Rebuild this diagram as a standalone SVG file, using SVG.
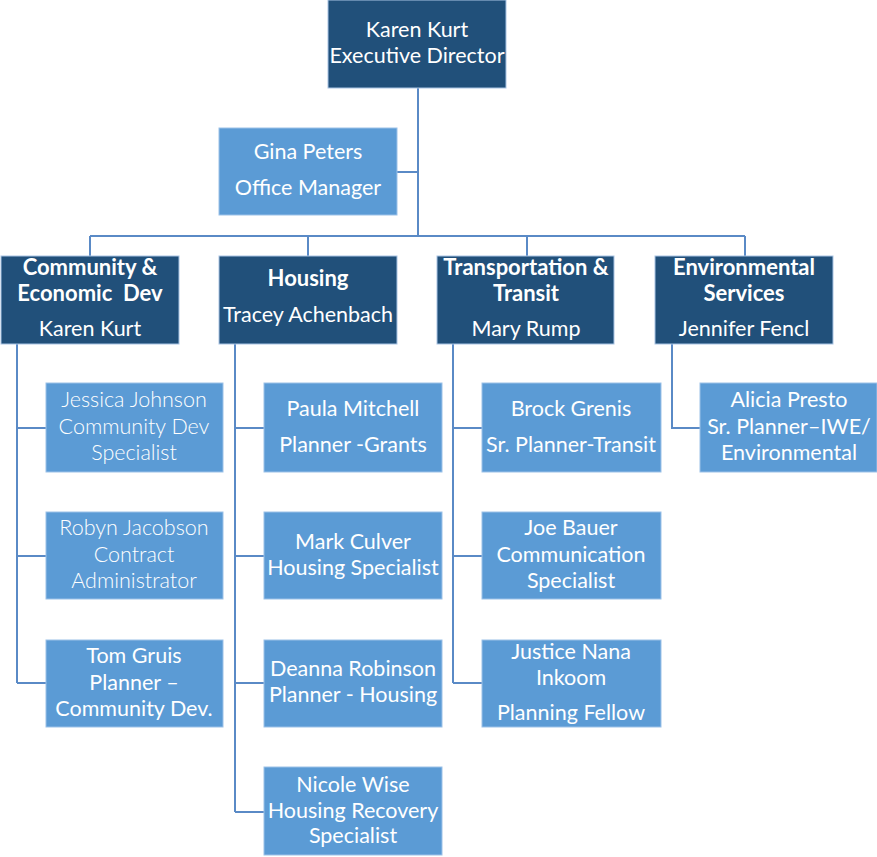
<svg xmlns="http://www.w3.org/2000/svg" width="877" height="857" viewBox="0 0 877 857">
<style>
.dk{fill:#21507A;stroke:#A9C4E4;stroke-width:1}
.lt{fill:#5B9BD5;stroke:#9CC1E8;stroke-width:1}
text{font-family:Lato,"Liberation Sans",sans-serif;font-size:21.5px;fill:#fff;text-anchor:middle}
.b{font-weight:bold;font-size:22px}
.l{font-weight:300}
.c{fill:none;stroke:#5A8AC6;stroke-width:2}
</style>
<rect width="877" height="857" fill="#fff"/>
<g id="connectors">
<path class="c" d="M418 88V236M397 172H418M90 236H745M90 236V256M308 236V256M527 236V256M745 236V256"/>
<path class="c" d="M17 344V683M17 428H46M17 556H46M17 683H46"/>
<path class="c" d="M235 344V812M235 428H264M235 556H264M235 683H264M235 812H264"/>
<path class="c" d="M453 344V683M453 428H482M453 556H482M453 683H482"/>
<path class="c" d="M672 344V428H700"/>
</g>
<g id="exec"><rect class="dk" x="328" y="0" width="178" height="88"/><text x="417" y="37">Karen Kurt</text><text x="417" y="63">Executive Director</text></g>
<g id="gina"><rect class="lt" x="219" y="128" width="178" height="87"/><text x="308" y="159">Gina Peters</text><text x="308" y="195">Office Manager</text></g>
<g id="ced"><rect class="dk" x="1" y="256" width="178" height="88"/><text class="b" x="90" y="275">Community &amp;</text><text class="b" x="90" y="301" xml:space="preserve">Economic  Dev</text><text x="90" y="336">Karen Kurt</text></g>
<g id="housing"><rect class="dk" x="219" y="256" width="178" height="88"/><text class="b" x="308" y="286">Housing</text><text x="308" y="322">Tracey Achenbach</text></g>
<g id="transport"><rect class="dk" x="437" y="256" width="177" height="88"/><text class="b" x="526" y="275">Transportation &amp;</text><text class="b" x="526" y="301">Transit</text><text x="526" y="336">Mary Rump</text></g>
<g id="env"><rect class="dk" x="655" y="256" width="178" height="88"/><text class="b" x="744" y="275">Environmental</text><text class="b" x="744" y="301">Services</text><text x="744" y="336">Jennifer Fencl</text></g>
<g id="jessica"><rect class="lt" x="46" y="383" width="177" height="89"/><text class="l" x="134" y="407">Jessica Johnson</text><text class="l" x="134" y="434">Community Dev</text><text class="l" x="134" y="460">Specialist</text></g>
<g id="robyn"><rect class="lt" x="46" y="512" width="177" height="87"/><text class="l" x="134" y="535">Robyn Jacobson</text><text class="l" x="134" y="562">Contract</text><text class="l" x="134" y="588">Administrator</text></g>
<g id="tom"><rect class="lt" x="46" y="640" width="177" height="87"/><text x="134" y="663">Tom Gruis</text><text x="134" y="690">Planner –</text><text x="134" y="716">Community Dev.</text></g>
<g id="paula"><rect class="lt" x="264" y="383" width="178" height="89"/><text x="353" y="416">Paula Mitchell</text><text x="353" y="452">Planner -Grants</text></g>
<g id="mark"><rect class="lt" x="264" y="512" width="178" height="87"/><text x="353" y="549">Mark Culver</text><text x="353" y="575">Housing Specialist</text></g>
<g id="deanna"><rect class="lt" x="264" y="640" width="178" height="87"/><text x="353" y="676">Deanna Robinson</text><text x="353" y="702">Planner - Housing</text></g>
<g id="nicole"><rect class="lt" x="264" y="767" width="178" height="88"/><text x="353" y="792">Nicole Wise</text><text x="353" y="818">Housing Recovery</text><text x="353" y="843">Specialist</text></g>
<g id="brock"><rect class="lt" x="482" y="383" width="179" height="89"/><text x="571" y="416">Brock Grenis</text><text x="571" y="452">Sr. Planner-Transit</text></g>
<g id="joe"><rect class="lt" x="482" y="512" width="179" height="87"/><text x="571" y="535">Joe Bauer</text><text x="571" y="562">Communication</text><text x="571" y="588">Specialist</text></g>
<g id="justice"><rect class="lt" x="482" y="640" width="179" height="87"/><text x="571" y="659">Justice Nana</text><text x="571" y="685">Inkoom</text><text x="571" y="720">Planning Fellow</text></g>
<g id="alicia"><rect class="lt" x="700" y="383" width="177" height="89"/><text x="789" y="407">Alicia Presto</text><text x="789" y="434">Sr. Planner–IWE/</text><text x="789" y="460">Environmental</text></g>
</svg>
